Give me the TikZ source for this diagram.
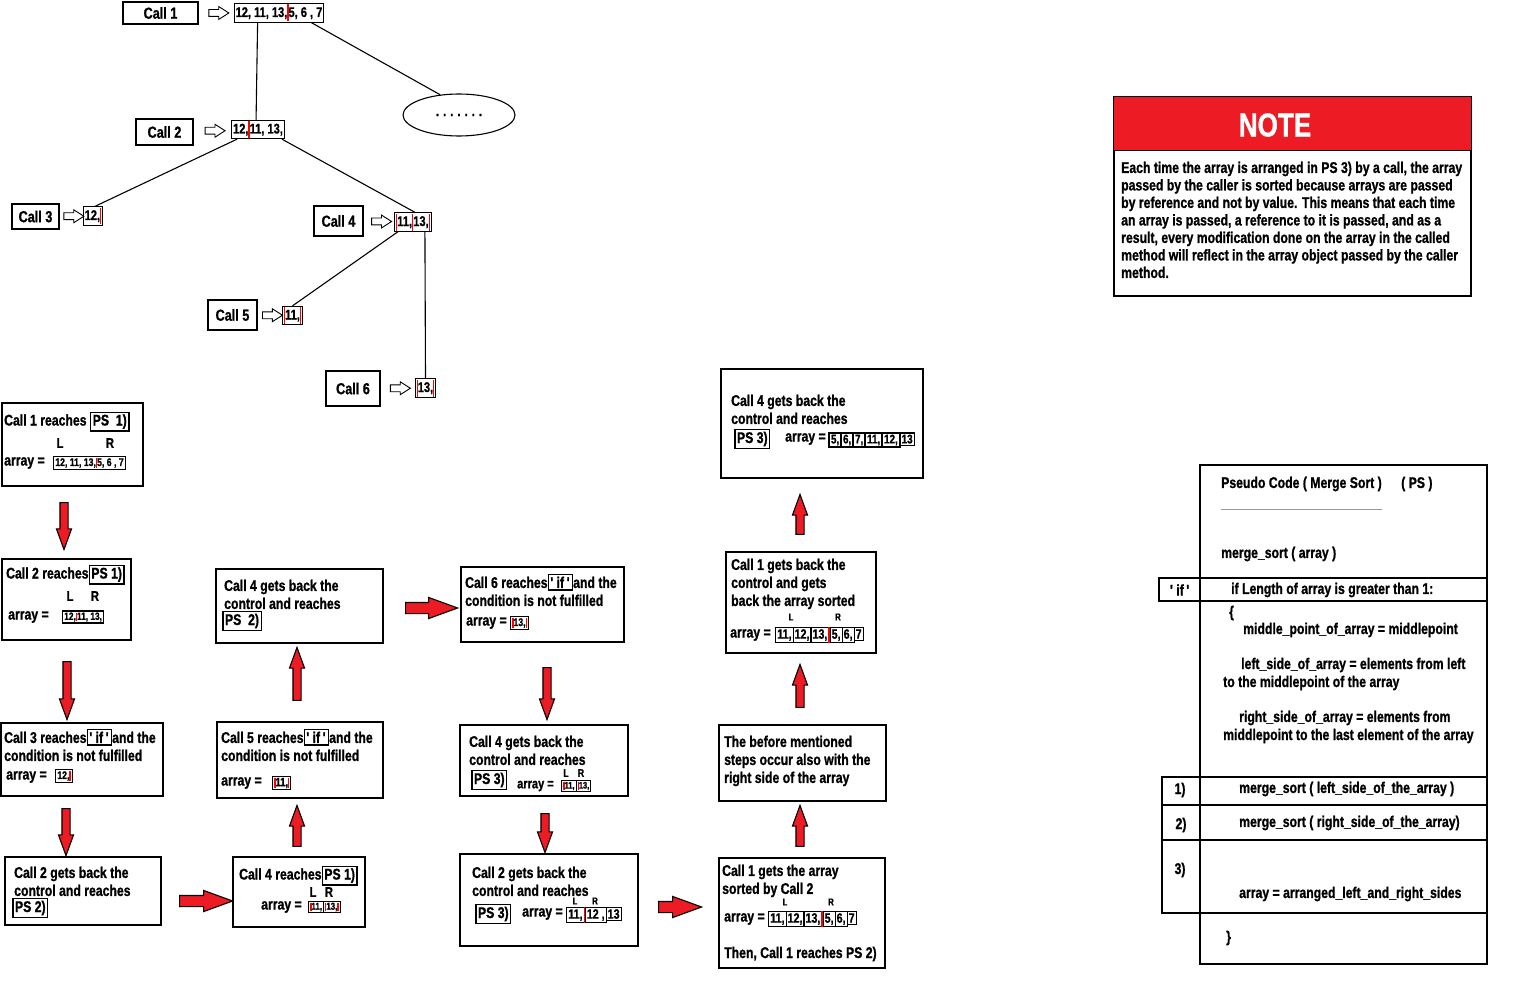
\documentclass[tikz,border=0pt]{standalone}
\usepackage{fontspec}
\setmainfont{Liberation Sans}[UprightFont={* Bold}, BoldFont={* Bold}, FakeStretch=0.79, FakeBold=1]
\usepackage{xcolor}
\usetikzlibrary{
	calc,
	shapes.arrows,
	shapes.geometric,
}
\definecolor{notered}{rgb}{0.93, 0.11, 0.14}
\definecolor{rulegray}{rgb}{0.6, 0.6, 0.6}
\setlength{\fboxsep}{1pt}
\setlength{\fboxrule}{1.1pt}
\newcommand{\fs}[2]{\fontsize{#1}{#2}\selectfont}
% boxed tags (PS 1), 'if' ...)
\newcommand{\pstag}[1]{{\setlength{\fboxsep}{1.5pt}\setlength{\fboxrule}{1.3pt}\fbox{#1}}}
\newcommand{\psbox}[1]{\smash{\pstag{#1}}}
\newcommand{\qif}{\textquotesingle\,if\,\textquotesingle}
% array cells and the red split bar
\newcommand{\rbar}{\textcolor{red}{\vrule width 1.2pt}}
\newcommand{\ac}[1]{\fbox{#1}\kern-\fboxrule}

\begin{document}
\begin{tikzpicture}[x=1pt, y=-1pt,
	every node/.style={inner sep=0pt, font=\bfseries\fs{15.5}{18}},
	callbox/.style={draw, line width=1.4pt, font=\bfseries\fs{16}{18}},
	arr/.style={draw, line width=1.1pt, inner xsep=1.5pt, inner ysep=0.6pt, text height=12.5pt, text depth=4.5pt, font=\bfseries\fs{14}{15}},
	stepbox/.style={draw, line width=1.4pt},
	txt/.style={anchor=west},
	para/.style={anchor=north west, align=left},
	lr/.style={font=\bfseries\fs{#1}{#1}},
	pcode/.style={anchor=west, font=\bfseries\fs{15.5}{18}},
	hollow/.style={single arrow, draw, fill=white, line width=0.9pt, inner sep=3pt, single arrow head extend=3pt, single arrow tip angle=65, minimum height=20},
	redarrow/.style={single arrow, draw, fill=notered, line width=1.1pt, inner sep=3.5pt, single arrow head extend=3.5pt, single arrow tip angle=40, rotate=#1},
	fatarrow/.style={redarrow=0, inner sep=5pt, single arrow head extend=5pt},
]
\useasboundingbox (0,0) rectangle (1531,995);

% recursion tree
\node[callbox, minimum width=75, minimum height=22] (c1) at (160.5,13) {Call 1};
\node[callbox, minimum width=57, minimum height=26] (c2) at (164.5,132) {Call 2};
\node[callbox, minimum width=47, minimum height=25] (c3) at (35.5,216.5) {Call 3};
\node[callbox, minimum width=49, minimum height=30] (c4) at (338.5,221) {Call 4};
\node[callbox, minimum width=49, minimum height=30] (c5) at (232.5,315) {Call 5};
\node[callbox, minimum width=54, minimum height=35] (c6) at (353,388.5) {Call 6};

\node[arr] (t1) at (279,13) {12, 11, 13,\rbar 5, 6 , 7};
\node[arr] (t2) at (258,129.5) {12,\rbar 11, 13,};
\node[arr] (t3) at (93,216) {12,\rbar};
\node[arr] (t4) at (413,222) {\rbar 11,\rbar 13,\rbar};
\node[arr] (t5) at (292.5,315.5) {\rbar 11,\rbar};
\node[arr] (t6) at (425.5,388) {\rbar 13,\rbar};

\node[hollow] (h1) at ($(c1.east)!0.5!(t1.west)$) {};
\node[hollow] (h2) at ($(c2.east)!0.5!(t2.west)$) {};
\node[hollow] (h3) at ($(c3.east)!0.5!(t3.west)$) {};
\node[hollow] (h4) at ($(c4.east)!0.5!(t4.west)$) {};
\node[hollow] (h5) at ($(c5.east)!0.5!(t5.west)$) {};
\node[hollow] (h6) at ($(c6.east)!0.5!(t6.west)$) {};

\node[ellipse, draw, line width=1.1pt, minimum width=112, minimum height=42, font=\fs{14}{14}] (el) at (459,115) {. . . . . . .};

\draw[line width=1.1pt] ([xshift=24pt]t1.south west) -- ([xshift=25pt]t2.north west);
\draw[line width=1.1pt] ([xshift=-13pt]t1.south east) -- (el.133);
\draw[line width=1.1pt] ([xshift=6pt]t2.south west) -- ([xshift=2pt]t3.north);
\draw[line width=1.1pt] ([xshift=-3pt]t2.south east) -- ([xshift=2pt]t4.north);
\draw[line width=1.1pt] ([xshift=4pt]t4.south west) -- (t5.north);
\draw[line width=1.1pt] ([xshift=-7pt]t4.south east) -- (t6.north);

% steps
\node[stepbox, minimum width=141, minimum height=83] (s1) at (72.5,444.5) {};
\node[txt] (s1a) at (4,420) {Call 1 reaches \psbox{PS~~1)}};
\node[lr=14] (s1l) at (60,443) {L};
\node[lr=14] (s1r) at (110,443) {R};
\node[txt] (s1b) at (4,463) {array =};
\node[txt, font=\bfseries\fs{11}{11}] (s1c) at (53,463) {\fbox{12, 11, 13,\rbar 5, 6 , 7}};

\node[stepbox, minimum width=129, minimum height=81] (s2) at (66.5,599.5) {};
\node[txt] (s2a) at (6,573) {Call 2 reaches\psbox{PS 1)}};
\node[lr=14] (s2l) at (70,596) {L};
\node[lr=14] (s2r) at (95,596) {R};
\node[txt] (s2b) at (8,617) {array =};
\node[txt, font=\bfseries\fs{10.5}{11}] (s2c) at (62,617) {\fbox{12,\rbar 11, 13,}};

\node[stepbox, minimum width=162, minimum height=73] (s3) at (82,759.5) {};
\node[para] (s3a) at (4,731.5) {Call 3 reaches\psbox{\qif}and the\\condition is not fulfilled};
\node[txt] (s3b) at (6,777) {array =};
\node[txt, font=\bfseries\fs{11}{11}] (s3c) at (55,776) {\fbox{12,\rbar}};

\node[stepbox, minimum width=156, minimum height=68] (s4) at (83,891) {};
\node[para] (s4a) at (14,866.5) {Call 2 gets back the\\control and reaches};
\node[txt] (s4b) at (12,908) {\pstag{PS 2)}};

\node[stepbox, minimum width=132, minimum height=70] (s5) at (299,892) {};
\node[txt] (s5a) at (239,874) {Call 4 reaches\psbox{PS 1)}};
\node[lr=14] (s5l) at (313,892) {L};
\node[lr=14] (s5r) at (329,892) {R};
\node[txt] (s5b) at (261,907) {array =};
\node[txt, font=\bfseries\fs{10}{10}] (s5c) at (308,907) {\ac{\rbar 11,}\fbox{\rbar 13,\rbar}};

\node[stepbox, minimum width=166, minimum height=76] (s6) at (300,760) {};
\node[para] (s6a) at (221,731.5) {Call 5 reaches\psbox{\qif}and the\\condition is not fulfilled};
\node[txt] (s6b) at (221,783) {array =};
\node[txt, font=\bfseries\fs{12}{12}] (s6c) at (272,783) {\fbox{\rbar 11,\rbar}};

\node[stepbox, minimum width=167, minimum height=74] (s7) at (299.5,606) {};
\node[para] (s7a) at (224,579.5) {Call 4 gets back the\\control and reaches};
\node[txt] (s7b) at (222,621) {\pstag{PS~~2)}};

\node[stepbox, minimum width=163, minimum height=75] (s8) at (542.5,604.5) {};
\node[para] (s8a) at (465,576.5) {Call 6 reaches\psbox{\qif}and the\\condition is not fulfilled};
\node[txt] (s8b) at (466,623) {array =};
\node[txt, font=\bfseries\fs{11}{11}] (s8c) at (510,623) {\fbox{\rbar 13,\rbar}};

\node[stepbox, minimum width=168, minimum height=71] (s9) at (544,760.5) {};
\node[para] (s9a) at (469,735.5) {Call 4 gets back the\\control and reaches};
\node[txt] (s9b) at (471,780) {\pstag{PS~3)}};
\node[txt, font=\bfseries\fs{14}{14}] (s9c) at (517,786) {array =};
\node[lr=11] (s9l) at (566,773) {L};
\node[lr=11] (s9r) at (581,773) {R};
\node[txt, font=\bfseries\fs{9.5}{10}] (s9d) at (561,786) {\ac{\rbar 11,}\fbox{\rbar 13,}};

\node[stepbox, minimum width=178, minimum height=92] (s10) at (549,900) {};
\node[para] (s10a) at (472,866.5) {Call 2 gets back the\\control and reaches};
\node[txt] (s10b) at (475,914) {\pstag{PS 3)}};
\node[txt] (s10c) at (522,914) {array =};
\node[lr=10] (s10l) at (575,901) {L};
\node[lr=10] (s10r) at (595,901) {R};
\node[txt, font=\bfseries\fs{13.5}{15}] (s10d) at (566,915) {\ac{11,}\rbar\ac{12 ,}\ac{13}};

\node[stepbox, minimum width=166, minimum height=110] (s11) at (802,913) {};
\node[para] (s11a) at (722,864.5) {Call 1 gets the array\\sorted by Call 2};
\node[lr=10] (s11l) at (785,902) {L};
\node[lr=10] (s11r) at (831,902) {R};
\node[txt] (s11b) at (724,919) {array =};
\node[txt, font=\bfseries\fs{13.5}{15}] (s11c) at (768,919) {\ac{11,}\ac{12,}\ac{13,}\rbar\ac{5,}\ac{6,}\ac{7}};
\node[txt] (s11d) at (724,954) {Then, Call 1 reaches PS 2)};

\node[stepbox, minimum width=167, minimum height=76] (s12) at (802.5,763) {};
\node[para] (s12a) at (724,735.5) {The before mentioned\\steps occur also with the\\right side of the array};

\node[stepbox, minimum width=150, minimum height=101] (s13) at (801,602.5) {};
\node[para] (s13a) at (731,558.5) {Call 1 gets back the\\control and gets\\back the array sorted};
\node[lr=10] (s13l) at (791,617) {L};
\node[lr=10] (s13r) at (838,617) {R};
\node[txt] (s13b) at (730,635) {array =};
\node[txt, font=\bfseries\fs{13.5}{15}] (s13c) at (775,635) {\ac{11,}\ac{12,}\ac{13,}\rbar\ac{5,}\ac{6,}\ac{7}};

\node[stepbox, minimum width=202, minimum height=109] (s14) at (822,423.5) {};
\node[para] (s14a) at (731,394.5) {Call 4 gets back the\\control and reaches};
\node[txt] (s14b) at (734,439) {\pstag{PS~3)}};
\node[txt] (s14c) at (785,439) {array =};
\node[txt, font=\bfseries\fs{12.5}{14}] (s14d) at (828,440) {\setlength{\fboxrule}{1.8pt}\ac{5,}\ac{6,}\ac{7,}\ac{11,}\ac{12,}\ac{13}};

% red arrows between the steps
\node[redarrow=-90, minimum height=47] (r1) at (64,520.5) {};
\node[redarrow=-90, minimum height=58] (r2) at (67,685) {};
\node[redarrow=-90, minimum height=47] (r3) at (66,826.5) {};
\node[fatarrow, minimum height=53] (r4) at (198.5,901) {};
\node[redarrow=90, minimum height=41] (r5) at (297,831.5) {};
\node[redarrow=90, minimum height=53] (r6) at (297,679.5) {};
\node[fatarrow, minimum height=52] (r7) at (424,608) {};
\node[redarrow=-90, minimum height=52] (r8) at (547,688) {};
\node[redarrow=-90, minimum height=39] (r9) at (545,827.5) {};
\node[fatarrow, minimum height=43] (r10) at (672.5,907) {};
\node[redarrow=90, minimum height=41] (r11) at (800,831.5) {};
\node[redarrow=90, minimum height=43] (r12) at (800,691.5) {};
\node[redarrow=90, minimum height=40] (r13) at (800,520) {};

% note
\node[draw, line width=1.2pt, minimum width=357, minimum height=199] (note) at (1292.5,196.5) {};
\node[fill=notered, minimum width=357, minimum height=53] (noteh) at (1292.5,123.5) {};
\draw[line width=1pt] (noteh.south west) -- (noteh.south east);
\node[text=white, font=\bfseries\fs{33}{33}] (notet) at (1275,125) {NOTE};
\node[para, font=\bfseries\fs{15.5}{17.5}] (noteb) at (1121,161.5) {Each time the array is arranged in PS 3) by a call, the array\\passed by the caller is sorted because arrays are passed\\by reference and not by value. This means that each time\\an array is passed, a reference to it is passed, and as a\\result, every modification done on the array in the called\\method will reflect in the array object passed by the caller\\method.};

% pseudo code
\node[stepbox, line width=1.3pt, minimum width=287, minimum height=499] (pc) at (1343.5,714.5) {};
\node[stepbox, line width=1.3pt, minimum width=328, minimum height=23] (pif) at (1323,589.5) {};
\node[stepbox, line width=1.3pt, minimum width=325, minimum height=28] (pr1) at (1324.5,791) {};
\node[stepbox, line width=1.3pt, minimum width=325, minimum height=35] (pr2) at (1324.5,822.5) {};
\node[stepbox, line width=1.3pt, minimum width=325, minimum height=73] (pr3) at (1324.5,876.5) {};
\draw[line width=1.3pt] (1200,777) -- (1200,913);

\node[pcode] (p1) at (1221,484) {Pseudo Code ( Merge Sort )};
\node[pcode] (p2) at (1401,484) {( PS )};
\draw[rulegray, line width=0.8pt] (1221,509) -- (1382,509);
\node[pcode] (p3) at (1221,554) {merge\_sort ( array )};
\node[pcode, anchor=center] (p4) at (1180,590) {\qif};
\node[pcode] (p5) at (1231,590) {if Length of array is greater than 1:};
\node[pcode] (p6) at (1229,613) {\{};
\node[pcode] (p7) at (1243,630) {middle\_point\_of\_array = middlepoint};
\node[pcode] (p8) at (1241,665) {left\_side\_of\_array = elements from left};
\node[pcode] (p9) at (1223,683) {to the middlepoint of the array};
\node[pcode] (p10) at (1239,718) {right\_side\_of\_array = elements from};
\node[pcode] (p11) at (1223,736) {middlepoint to the last element of the array};
\node[pcode, anchor=center] (p12) at (1180,790) {1)};
\node[pcode] (p13) at (1239,789) {merge\_sort ( left\_side\_of\_the\_array )};
\node[pcode, anchor=center] (p14) at (1181,825) {2)};
\node[pcode] (p15) at (1239,823) {merge\_sort ( right\_side\_of\_the\_array)};
\node[pcode, anchor=center] (p16) at (1180,870) {3)};
\node[pcode] (p17) at (1239,894) {array = arranged\_left\_and\_right\_sides};
\node[pcode] (p18) at (1226,938) {\}};
\end{tikzpicture}
\end{document}
